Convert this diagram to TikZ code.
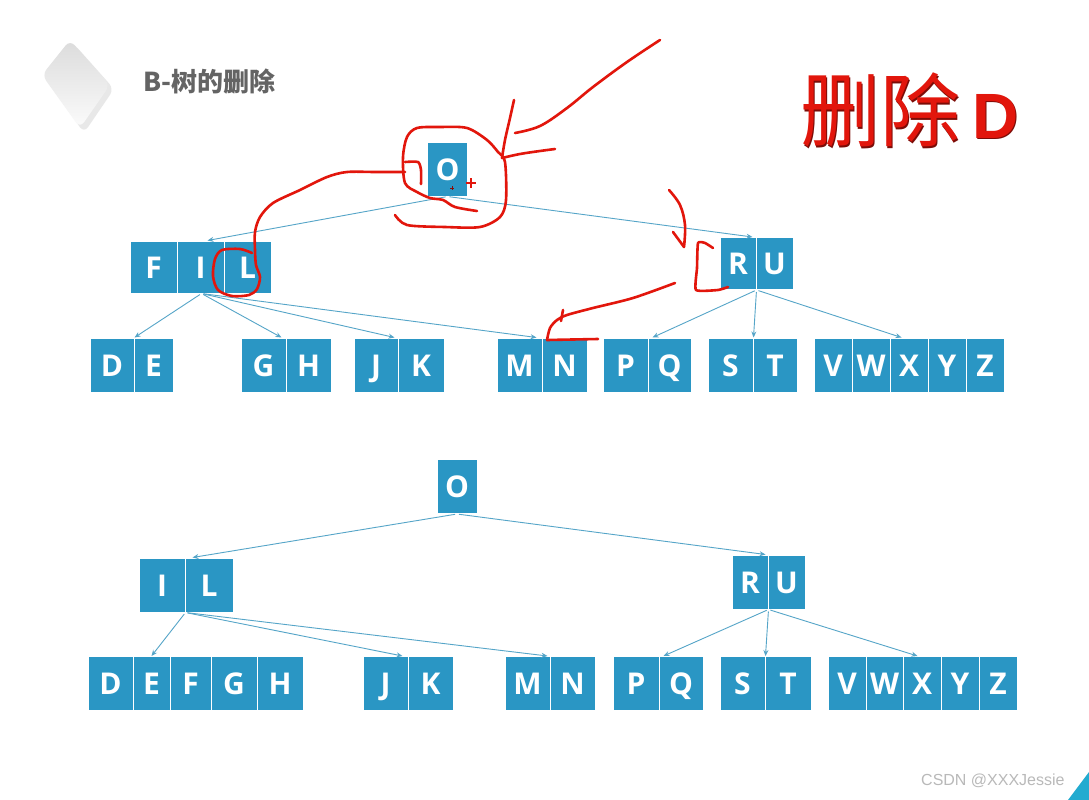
\documentclass[tikz,border=0pt]{standalone}
\usepackage{fontspec}
\setmainfont{Liberation Sans}
\newfontfamily\boxfont{Open Sans}
\newfontfamily\cjkfont{Noto Sans CJK SC}
\usetikzlibrary{arrows.meta,calc}
\definecolor{boxblue}{RGB}{42,150,196}
\definecolor{lnblue}{RGB}{85,165,200}
\definecolor{penred}{RGB}{226,22,12}
\definecolor{titlegray}{RGB}{100,100,100}
\tikzset{
  bx/.style={rectangle, fill=boxblue, draw=white, line width=1pt, text=white,
    font=\boxfont\bfseries\fontsize{30}{30}\selectfont, inner sep=0pt,
    text height=22pt, text depth=0pt, minimum width=#1},
  rowA/.style={minimum height=54pt},
  rowB/.style={minimum height=52pt},
  cn/.style={draw=lnblue, line width=0.9pt, -{Stealth[length=6pt,width=5pt]}, shorten <=2pt},
  redpen/.style={draw=penred, line width=2.6pt, line cap=round, line join=round}
}
\begin{document}
\begin{tikzpicture}[x=1pt,y=-1pt]
\useasboundingbox (0,0) rectangle (1089,800);
\fill[white] (0,0) rectangle (1089,800);

% logo
\fill[gray!35, opacity=0.5, rounded corners=7pt] (74,44) -- (114,89) -- (84,133) -- (46,79) -- cycle;
\shade[top color=gray!28, bottom color=gray!3, rounded corners=7pt] (70,40) -- (110,85) -- (80,128) -- (42,75) -- cycle;
\node[anchor=west, inner sep=0pt, text=titlegray, font=\cjkfont\bfseries\fontsize{26}{26}\selectfont] (title) at (143,82) {B-树的删除};

% big red title
\node[anchor=west, inner sep=0pt, text=penred!55!black, font=\cjkfont\fontsize{80}{80}\selectfont] at (801.5,111.5) {删除};
\node[anchor=west, inner sep=0pt, text=penred, font=\cjkfont\fontsize{80}{80}\selectfont] (deltitle) at (800,110) {删除};
\node[anchor=base west, inner sep=0pt, text=penred!55!black, font=\bfseries\fontsize{64}{64}\selectfont] at (973.5,139.5) {D};
\node[anchor=base west, inner sep=0pt, text=penred, font=\bfseries\fontsize{64}{64}\selectfont] (deld) at (972,138) {D};

% ---------- top tree ----------
\node[bx=40, rowA] (tO) at (447.5,169) {O};
\node[bx=47, rowB] (tF) at (153.5,267) {F};
\node[bx=47, rowB] (tI) at (200.5,267) {I};
\node[bx=47, rowB] (tL) at (247.5,267) {L};
\node[bx=36, rowB] (tR) at (738,263.5) {R};
\node[bx=37, rowB] (tU) at (774.5,263.5) {U};
\node[bx=44, rowA] (tD) at (112,365) {D};
\node[bx=39, rowA] (tE) at (153.5,365) {E};
\node[bx=45, rowA] (tG) at (263.5,365) {G};
\node[bx=45, rowA] (tH) at (308.5,365) {H};
\node[bx=44, rowA] (tJ) at (376,365) {J};
\node[bx=46, rowA] (tK) at (421,365) {K};
\node[bx=45, rowA] (tM) at (519.5,365) {M};
\node[bx=45, rowA] (tN) at (564.5,365) {N};
\node[bx=45, rowA] (tP) at (625.5,365) {P};
\node[bx=43, rowA] (tQ) at (669.5,365) {Q};
\node[bx=45, rowA] (tS) at (730.5,365) {S};
\node[bx=44, rowA] (tT) at (775,365) {T};
\node[bx=38, rowA] (tV) at (833,365) {V};
\node[bx=38, rowA] (tW) at (871,365) {W};
\node[bx=38, rowA] (tX) at (909,365) {X};
\node[bx=38, rowA] (tY) at (947,365) {Y};
\node[bx=38, rowA] (tZ) at (985,365) {Z};

\draw[cn] (tO.south) -- ([xshift=7pt]tI.north);
\draw[cn] (tO.south) -- ([xshift=-4pt]tR.north east);
\draw[cn] ([xshift=1pt]tI.south) -- (tD.north east);
\draw[cn] ([xshift=1pt]tI.south) -- ([xshift=-5pt]tG.north east);
\draw[cn] ([xshift=1pt]tI.south) -- ([xshift=-4pt]tJ.north east);
\draw[cn] ([xshift=1pt]tI.south) -- ([xshift=-6pt]tM.north east);
\draw[cn] (tR.south east) -- ([xshift=4pt]tP.north east);
\draw[cn] (tR.south east) -- (tS.north east);
\draw[cn] (tR.south east) -- ([xshift=12pt]tX.north west);

% ---------- bottom tree ----------
\node[bx=40, rowA] (bO) at (457,486.5) {O};
\node[bx=46, rowA] (bI) at (162,585) {I};
\node[bx=48, rowA] (bL) at (209,585) {L};
\node[bx=36, rowA] (bR) at (750,582) {R};
\node[bx=37, rowA] (bU) at (786.5,582) {U};
\node[bx=45, rowA] (bD) at (110.5,683.5) {D};
\node[bx=37, rowA] (bE) at (151.5,683.5) {E};
\node[bx=41, rowA] (bF) at (190.5,683.5) {F};
\node[bx=46, rowA] (bG) at (234,683.5) {G};
\node[bx=46, rowA] (bH) at (280,683.5) {H};
\node[bx=45, rowA] (bJ) at (385.5,683.5) {J};
\node[bx=45, rowA] (bK) at (430.5,683.5) {K};
\node[bx=45, rowA] (bM) at (527.5,683.5) {M};
\node[bx=45, rowA] (bN) at (572.5,683.5) {N};
\node[bx=46, rowA] (bP) at (636,683.5) {P};
\node[bx=44, rowA] (bQ) at (681,683.5) {Q};
\node[bx=45, rowA] (bS) at (742.5,683.5) {S};
\node[bx=46, rowA] (bT) at (788,683.5) {T};
\node[bx=38, rowA] (bV) at (847,683.5) {V};
\node[bx=37, rowA] (bW) at (884.5,683.5) {W};
\node[bx=38, rowA] (bX) at (922,683.5) {X};
\node[bx=38, rowA] (bY) at (960,683.5) {Y};
\node[bx=38, rowA] (bZ) at (998,683.5) {Z};

\draw[cn] (bO.south) -- ([xshift=7pt]bI.north east);
\draw[cn] (bO.south) -- ([xshift=-3pt]bR.north east);
\draw[cn] (bI.south east) -- (bE.north);
\draw[cn] (bI.south east) -- ([xshift=-6pt]bJ.north east);
\draw[cn] (bI.south east) -- ([xshift=-3pt]bM.north east);
\draw[cn] (bR.south east) -- ([xshift=4pt]bP.north east);
\draw[cn] (bR.south east) -- (bS.north east);
\draw[cn] (bR.south east) -- ([xshift=15pt]bX.north west);

% ---------- red freehand annotations ----------
\draw[redpen] plot[smooth, tension=0.6] coordinates {(660,40) (627,62) (593,87) (567,108) (540,126) (515,133)};
\draw[redpen] plot[smooth, tension=0.6] coordinates {(514,100) (510,118) (505,140) (502,158)};
\draw[redpen] plot[smooth, tension=0.6] coordinates {(502,158) (520,154) (540,151) (555,149)};
\draw[redpen] plot[smooth, tension=0.5] coordinates {(395,215) (407,225) (445,227) (480,227) (500,217) (506,200) (505,162) (498,152) (487,140) (467,128) (440,127) (417,128) (407,137) (403,157) (405,183) (417,192) (430,198) (443,200) (455,207) (477,211)};
\draw[redpen] plot[smooth, tension=0.4] coordinates {(405,162) (418,162) (421,170) (421,184)};
\draw[redpen] plot[smooth, tension=0.5] coordinates {(405,172) (375,172) (347,172) (327,177) (300,190) (273,203) (260,217) (255,232) (255,250) (256,265) (260,277) (257,289) (249,295) (232,296) (218,290) (213,276) (215,259) (222,250) (240,249) (252,253)};
\draw[redpen] plot[smooth, tension=0.6] coordinates {(669,190) (680,205) (685,225) (684,247)};
\draw[redpen] (673,232) -- (684,247);
\draw[redpen] plot[smooth, tension=0.3] coordinates {(713,248) (705,243) (698,243) (697,268) (696,290) (718,290) (728,287)};
\draw[redpen] plot[smooth, tension=0.5] coordinates {(675,283) (633,298) (593,308) (567,315) (557,320) (550,328) (547,340)};
\draw[redpen] (547,340) -- (598,339);
\draw[redpen] (563,310) -- (561,321);
% cursor marks
\draw[penred, line width=1.2pt] (466,183) -- (476,183) (471,178) -- (471,188);
\draw[penred!60!black, line width=0.8pt] (450,188) -- (454,188) (452,186) -- (452,190);

% watermark
\node[anchor=west, inner sep=0pt, text=gray!55, font=\fontsize{16}{16}\selectfont] (wm) at (921,781) {CSDN @XXXJessie};
\fill[boxblue!80!cyan] (1089,772) -- (1089,800) -- (1068,800) -- cycle;
\end{tikzpicture}
\end{document}
